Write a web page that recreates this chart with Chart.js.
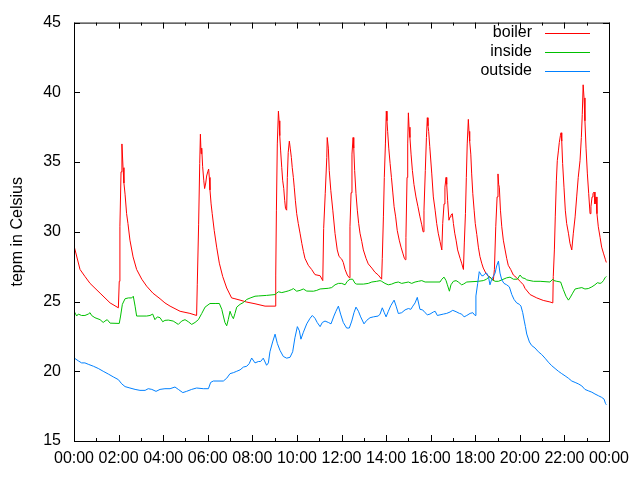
<!DOCTYPE html>
<html>
<head>
<meta charset="utf-8">
<script src="https://cdn.jsdelivr.net/npm/chart.js@4.4.0/dist/chart.umd.min.js"></script>
<style>
  html, body { margin: 0; padding: 0; background: #fff; }
  #contenedor { width: 640px; height: 480px; }
</style>
</head>
<body>
<div id="contenedor"><canvas id="grafica-temperaturas"></canvas></div>
<script>
// [hora, grados] (24h)
const boiler = [
  [0, 29.0], [0.27, 27.3], [0.49, 26.8], [0.72, 26.3], [1.17, 25.6], [1.62, 24.9], [1.99, 24.55],
  [2.03, 26.45], [2.06, 30.4], [2.11, 34.3], [2.15, 36.3], [2.20, 34.6], [2.24, 33.5], [2.29, 32.7],
  [2.36, 31.3], [2.42, 30.6], [2.51, 29.4], [2.65, 28.2], [2.81, 27.3], [3.04, 26.6], [3.26, 26.1],
  [3.54, 25.6], [3.86, 25.2], [4.08, 24.9], [4.31, 24.67], [4.76, 24.3], [5.20, 24.15], [5.50, 24.0],
  [5.53, 26.2], [5.59, 30.5], [5.64, 34.9], [5.67, 37.0], [5.70, 35.6], [5.73, 36.0], [5.77, 34.7],
  [5.82, 33.7], [5.86, 33.1], [5.91, 33.5], [5.95, 34.0], [6.00, 34.3], [6.04, 34.5], [6.07, 33.9],
  [6.10, 33.0], [6.15, 32.0], [6.20, 31.3], [6.29, 30.1], [6.40, 28.9], [6.52, 27.75], [6.67, 26.8],
  [6.85, 25.97], [7.07, 25.26], [7.22, 25.2], [7.45, 25.1], [7.75, 24.96], [8.12, 24.84], [8.57, 24.67],
  [9.02, 24.67], [9.05, 26.9], [9.08, 31.55], [9.12, 36.3], [9.17, 38.65], [9.20, 37.96], [9.23, 36.9],
  [9.27, 35.8], [9.32, 34.6], [9.36, 33.7], [9.41, 33.1], [9.45, 32.26], [9.49, 31.66], [9.54, 31.55],
  [9.57, 33.9], [9.61, 35.7], [9.66, 36.5], [9.70, 36.0], [9.75, 35.33], [9.79, 34.6], [9.84, 33.9],
  [9.88, 33.2], [9.93, 32.26], [9.99, 31.3], [10.06, 30.6], [10.14, 29.9], [10.22, 29.17], [10.29, 28.6],
  [10.36, 28.1], [10.51, 27.6], [10.66, 27.3], [10.81, 26.93], [11.04, 26.85], [11.16, 26.5],
  [11.20, 30.24], [11.27, 32.73], [11.34, 35.33], [11.36, 36.76], [11.41, 36.0], [11.45, 34.4],
  [11.52, 32.97], [11.61, 31.55], [11.71, 29.88], [11.81, 28.7], [11.89, 28.23], [12.01, 28.04],
  [12.08, 27.8], [12.16, 27.3], [12.26, 26.9], [12.35, 26.7], [12.38, 30.36], [12.43, 32.8],
  [12.47, 35.57], [12.52, 36.76], [12.55, 36.0], [12.59, 34.4], [12.65, 32.73], [12.71, 31.55],
  [12.77, 30.6], [12.83, 29.9], [12.91, 29.3], [12.98, 28.7], [13.10, 28.1], [13.20, 27.7],
  [13.36, 27.4], [13.50, 27.1], [13.65, 26.9], [13.80, 26.6], [13.83, 28.1], [13.88, 31.07],
  [13.92, 33.9], [13.97, 36.3], [14.01, 38.65], [14.04, 37.96], [14.07, 37.2], [14.12, 36.0],
  [14.18, 34.9], [14.24, 33.9], [14.30, 32.85], [14.36, 31.8], [14.43, 31.07], [14.50, 30.1],
  [14.59, 29.4], [14.67, 28.9], [14.75, 28.47], [14.82, 28.1], [14.86, 28.0], [14.89, 29.6],
  [14.94, 33.9], [14.97, 36.3], [15.00, 38.53], [15.03, 37.5], [15.07, 36.76], [15.12, 35.57],
  [15.18, 34.4], [15.25, 33.4], [15.34, 32.5], [15.43, 31.8], [15.52, 31.07], [15.60, 30.5],
  [15.66, 30.0], [15.70, 31.55], [15.76, 34.4], [15.81, 36.76], [15.85, 38.18], [15.88, 37.6],
  [15.91, 37.2], [15.96, 36.1], [16.05, 34.15], [16.12, 32.5], [16.20, 31.55], [16.27, 30.6],
  [16.34, 29.9], [16.42, 29.3], [16.50, 28.7], [16.54, 30.6], [16.60, 32.0], [16.64, 33.2],
  [16.69, 33.9], [16.72, 33.4], [16.76, 32.26], [16.82, 30.83], [16.87, 31.07], [16.91, 31.2],
  [16.97, 31.3], [17.02, 30.6], [17.08, 29.9], [17.14, 29.4], [17.21, 28.7], [17.32, 28.1],
  [17.39, 27.75], [17.47, 27.3], [17.51, 29.2], [17.56, 31.3], [17.60, 33.9], [17.64, 36.3],
  [17.69, 38.06], [17.72, 37.2], [17.75, 36.5], [17.80, 35.57], [17.84, 34.15], [17.89, 32.73],
  [17.95, 31.55], [18.00, 30.6], [18.07, 29.8], [18.14, 28.9], [18.21, 28.23], [18.29, 27.75],
  [18.36, 27.4], [18.47, 27.05], [18.59, 26.8], [18.71, 26.7], [18.81, 26.5], [18.86, 27.3],
  [18.92, 30.36], [18.98, 32.5], [19.02, 34.15], [19.05, 33.4], [19.08, 33.2], [19.13, 31.55],
  [19.19, 30.36], [19.26, 29.4], [19.34, 28.7], [19.41, 28.1], [19.48, 27.6], [19.59, 27.3],
  [19.71, 26.9], [19.86, 26.7], [20.01, 26.45], [20.16, 26.2], [20.23, 25.95], [20.46, 25.5],
  [20.76, 25.26], [21.05, 25.08], [21.35, 24.97], [21.48, 24.9], [21.50, 26.8], [21.55, 28.7],
  [21.59, 31.07], [21.64, 33.7], [21.68, 35.1], [21.73, 35.8], [21.77, 36.4], [21.82, 36.9],
  [21.85, 37.1], [21.88, 36.5], [21.92, 34.9], [21.98, 33.2], [22.04, 31.55], [22.10, 30.6],
  [22.18, 29.9], [22.25, 29.17], [22.33, 28.7], [22.40, 29.9], [22.48, 31.07], [22.55, 32.5],
  [22.62, 33.9], [22.70, 35.1], [22.76, 36.76], [22.80, 38.4], [22.84, 40.54], [22.88, 39.6],
  [22.92, 37.96], [22.97, 36.0], [23.03, 34.15], [23.09, 32.73], [23.15, 31.3], [23.19, 31.8],
  [23.24, 32.5], [23.28, 32.73], [23.33, 32.85], [23.37, 32.0], [23.42, 32.5], [23.46, 31.3],
  [23.52, 30.36], [23.60, 29.6], [23.67, 28.9], [23.75, 28.47], [23.84, 28.0], [23.88, 27.8]
];

const inside = [
  [0, 24.32], [0.12, 23.96], [0.19, 24.1], [0.34, 24.0], [0.49, 24.0], [0.64, 24.1], [0.72, 24.2],
  [0.79, 24.0], [0.94, 23.84], [1.17, 23.7], [1.31, 23.5], [1.39, 23.6], [1.49, 23.7], [1.62, 23.45],
  [2.03, 23.43], [2.09, 23.96], [2.17, 24.8], [2.29, 25.2], [2.44, 25.26], [2.59, 25.26], [2.66, 25.38],
  [2.74, 24.67], [2.81, 23.96], [3.26, 23.96], [3.41, 24.0], [3.53, 24.1], [3.63, 23.7], [3.74, 23.9],
  [3.86, 23.84], [3.98, 23.55], [4.08, 23.65], [4.23, 23.67], [4.45, 23.6], [4.68, 23.36], [4.83, 23.6],
  [4.98, 23.7], [5.13, 23.55], [5.28, 23.36], [5.43, 23.5], [5.58, 23.7], [5.73, 24.14], [5.88, 24.6],
  [6.10, 24.86], [6.33, 24.86], [6.52, 24.86], [6.63, 24.44], [6.70, 23.96], [6.77, 23.5], [6.85, 23.26],
  [6.92, 23.7], [7.00, 24.3], [7.07, 24.0], [7.15, 23.77], [7.22, 24.14], [7.30, 24.6], [7.45, 24.8],
  [7.60, 24.93], [7.75, 25.15], [7.90, 25.25], [8.12, 25.38], [8.27, 25.4], [8.64, 25.44], [9.02, 25.5],
  [9.09, 25.6], [9.17, 25.7], [9.32, 25.64], [9.47, 25.7], [9.61, 25.76], [9.77, 25.86], [9.84, 25.93],
  [9.99, 25.74], [10.14, 25.8], [10.29, 25.9], [10.44, 25.75], [10.74, 25.74], [10.89, 25.8], [11.04, 25.9],
  [11.41, 25.95], [11.56, 26.0], [11.71, 26.2], [11.86, 26.3], [12.01, 26.3], [12.16, 26.2], [12.26, 26.45],
  [12.38, 26.6], [12.50, 26.6], [12.61, 26.3], [12.68, 26.25], [12.98, 26.25], [13.20, 26.3], [13.36, 26.4],
  [13.58, 26.45], [13.73, 26.5], [13.80, 26.45], [13.95, 26.3], [14.10, 26.2], [14.25, 26.25], [14.40, 26.35],
  [14.55, 26.4], [14.70, 26.3], [14.85, 26.35], [15.00, 26.4], [15.15, 26.3], [15.30, 26.4], [15.45, 26.45],
  [15.60, 26.5], [15.75, 26.4], [16.42, 26.4], [16.50, 26.6], [16.60, 26.75], [16.69, 26.5], [16.75, 26.2],
  [16.84, 25.74], [16.91, 26.2], [17.02, 26.45], [17.14, 26.5], [17.24, 26.4], [17.39, 26.2], [17.47, 26.25],
  [17.62, 26.4], [18.14, 26.45], [18.36, 26.5], [18.51, 26.6], [18.63, 26.8], [18.74, 26.6], [18.89, 26.45],
  [19.04, 26.45], [19.19, 26.55], [19.41, 26.7], [19.56, 26.75], [19.71, 26.6], [19.89, 26.6], [20.01, 26.9],
  [20.11, 26.7], [20.23, 26.65], [20.31, 26.55], [20.61, 26.45], [20.91, 26.45], [21.35, 26.4], [21.48, 26.6],
  [21.53, 26.5], [21.66, 26.45], [21.83, 26.4], [21.95, 25.86], [22.07, 25.38], [22.18, 25.1], [22.25, 25.26],
  [22.37, 25.6], [22.48, 25.9], [22.62, 25.95], [22.78, 26.0], [22.92, 25.9], [23.07, 25.93], [23.23, 26.05],
  [23.37, 26.2], [23.48, 26.35], [23.60, 26.3], [23.67, 26.35], [23.75, 26.5], [23.82, 26.7], [23.88, 26.8]
];

const outside = [
  [0, 20.96], [0.19, 20.75], [0.34, 20.6], [0.49, 20.6], [0.64, 20.5], [0.87, 20.36], [1.09, 20.2],
  [1.31, 20.0], [1.54, 19.8], [1.76, 19.6], [1.99, 19.4], [2.14, 19.1], [2.29, 18.9], [2.51, 18.8],
  [2.74, 18.7], [2.96, 18.63], [3.19, 18.63], [3.33, 18.75], [3.49, 18.7], [3.68, 18.56], [3.86, 18.7],
  [4.08, 18.75], [4.31, 18.75], [4.53, 18.87], [4.68, 18.7], [4.88, 18.47], [5.05, 18.56], [5.28, 18.7],
  [5.50, 18.8], [5.80, 18.75], [6.03, 18.75], [6.13, 19.2], [6.25, 19.3], [6.70, 19.3], [6.85, 19.5],
  [7.00, 19.83], [7.15, 19.9], [7.30, 20.0], [7.45, 20.1], [7.60, 20.3], [7.75, 20.36], [7.86, 20.55],
  [7.97, 20.95], [8.12, 20.6], [8.27, 20.7], [8.37, 20.7], [8.49, 20.94], [8.64, 20.43], [8.72, 20.6],
  [8.79, 21.4], [8.91, 22.1], [9.02, 22.66], [9.12, 22.0], [9.24, 21.5], [9.39, 21.06], [9.54, 20.94],
  [9.69, 21.0], [9.81, 21.4], [9.91, 22.4], [10.02, 23.2], [10.11, 22.9], [10.18, 22.3], [10.29, 22.8],
  [10.44, 23.4], [10.59, 23.8], [10.69, 24.0], [10.81, 23.8], [10.91, 23.5], [11.04, 23.2], [11.14, 23.5],
  [11.26, 23.6], [11.41, 23.5], [11.53, 23.4], [11.66, 23.96], [11.75, 24.3], [11.86, 24.67], [11.96, 24.1],
  [12.08, 23.5], [12.23, 23.1], [12.35, 23.1], [12.46, 23.6], [12.56, 24.2], [12.65, 24.6], [12.76, 24.3],
  [12.86, 23.9], [13.01, 23.4], [13.13, 23.65], [13.28, 23.84], [13.43, 23.9], [13.65, 23.96], [13.73, 24.1],
  [13.83, 24.55], [13.92, 24.2], [14.00, 23.9], [14.10, 24.3], [14.21, 24.7], [14.36, 25.1], [14.45, 24.67],
  [14.55, 24.14], [14.70, 24.2], [14.85, 24.4], [15.00, 24.5], [15.11, 24.44], [15.20, 24.67], [15.30, 24.9],
  [15.40, 25.3], [15.52, 24.44], [15.64, 24.4], [15.75, 24.2], [15.85, 24.05], [15.97, 24.1], [16.12, 24.25],
  [16.20, 24.3], [16.30, 24.0], [16.57, 24.1], [16.72, 24.15], [16.87, 24.25], [16.99, 24.37], [17.14, 24.27],
  [17.29, 24.15], [17.39, 24.1], [17.50, 23.9], [17.62, 24.0], [17.77, 24.15], [17.89, 24.2], [17.99, 24.0],
  [18.03, 25.4], [18.11, 26.3], [18.18, 27.14], [18.29, 26.85], [18.36, 26.85], [18.44, 27.0], [18.51, 27.04],
  [18.59, 26.8], [18.66, 26.2], [18.74, 26.6], [18.81, 26.8], [18.89, 27.04], [18.96, 27.55], [19.04, 27.9],
  [19.11, 27.04], [19.19, 26.55], [19.29, 26.3], [19.41, 26.2], [19.53, 26.05], [19.64, 25.5], [19.74, 25.15],
  [19.86, 24.9], [19.98, 24.8], [20.05, 24.67], [20.13, 24.2], [20.20, 23.6], [20.25, 23.2], [20.31, 22.67],
  [20.43, 22.1], [20.53, 21.85], [20.68, 21.67], [20.83, 21.4], [20.98, 21.2], [21.13, 20.94], [21.28, 20.65],
  [21.43, 20.4], [21.58, 20.2], [21.73, 20.0], [21.88, 19.83], [22.03, 19.67], [22.18, 19.5], [22.33, 19.3],
  [22.48, 19.2], [22.62, 19.1], [22.78, 18.95], [22.92, 18.7], [23.07, 18.6], [23.23, 18.5], [23.37, 18.37],
  [23.52, 18.25], [23.67, 18.13], [23.78, 18.0], [23.84, 17.7], [23.88, 17.6]
];

const ejeYTicks = [15, 20, 25, 30, 35, 40, 45];
const ejeXHoras = [0, 2, 4, 6, 8, 10, 12, 14, 16, 18, 20, 22, 24];
const tituloY = 'tepm in Celsius';

function aPuntos(serie) {
    return serie.map(p => ({x: p[0], y: p[1]}));
}

Chart.defaults.font.family = "'Liberation Sans', Arial, sans-serif";
Chart.defaults.font.size = 16;
Chart.defaults.color = '#000';

//Marco estilo gnuplot: borde, ticks hacia dentro, leyenda y titulo del eje y
const marcoGnuplot = {
    id: 'marcoGnuplot',
    afterDraw(chart) {
        const {ctx, chartArea: {top, bottom, left, right}, scales: {x, y}} = chart;
        ctx.save();
        ctx.strokeStyle = '#000';
        ctx.lineWidth = 1;
        ctx.strokeRect(left + 0.5, top + 0.5, right - left, bottom - top);

        ctx.beginPath();
        for (let h = 0; h <= 24; h++) {
            const px = Math.round(x.getPixelForValue(h)) + 0.5;
            const largo = ejeXHoras.includes(h) ? 6 : 3;
            ctx.moveTo(px, bottom); ctx.lineTo(px, bottom - largo);
            ctx.moveTo(px, top); ctx.lineTo(px, top + largo);
        }
        ejeYTicks.forEach(v => {
            const py = Math.round(y.getPixelForValue(v)) + 0.5;
            ctx.moveTo(left, py); ctx.lineTo(left + 6, py);
            ctx.moveTo(right, py); ctx.lineTo(right - 6, py);
        });
        ctx.stroke();

        ctx.font = "16px 'Liberation Sans', Arial, sans-serif";
        ctx.fillStyle = '#000';
        ctx.textBaseline = 'middle';

        // leyenda arriba a la derecha
        chart.data.datasets.forEach((ds, i) => {
            const fy = 33 + i * 19;
            ctx.textAlign = 'right';
            ctx.fillText(ds.label, 532, fy);
            ctx.strokeStyle = ds.borderColor;
            ctx.beginPath();
            ctx.moveTo(545, fy + 0.5);
            ctx.lineTo(590, fy + 0.5);
            ctx.stroke();
        });

        ctx.translate(18, (top + bottom) / 2);
        ctx.rotate(-Math.PI / 2);
        ctx.textAlign = 'center';
        ctx.fillText(tituloY, 0, 0);
        ctx.restore();
    }
};

const datos = {
    datasets: [
        {label: 'boiler', data: aPuntos(boiler), borderColor: '#ff0000', order: 3},
        {label: 'inside', data: aPuntos(inside), borderColor: '#00c000', order: 2},
        {label: 'outside', data: aPuntos(outside), borderColor: '#0080ff', order: 1}
    ]
};

const opciones = {
    responsive: false,
    animation: false,
    layout: {padding: {left: 0, right: 31, top: 19, bottom: 0}},
    elements: {
        line: {borderWidth: 1, tension: 0, fill: false},
        point: {radius: 0}
    },
    plugins: {
        legend: {display: false},
        tooltip: {enabled: false}
    },
    scales: {
        x: {
            type: 'linear',
            min: 0, max: 24,
            afterFit: s => { s.height = 39; },
            afterBuildTicks: s => { s.ticks = ejeXHoras.map(v => ({value: v})); },
            grid: {display: false, drawTicks: false},
            border: {display: false},
            ticks: {
                padding: 8,
                autoSkip: false,
                maxRotation: 0,
                callback: v => String(v % 24).padStart(2, '0') + ':00'
            }
        },
        y: {
            min: 15, max: 45,
            afterFit: s => { s.width = 74; },
            afterBuildTicks: s => { s.ticks = ejeYTicks.map(v => ({value: v})); },
            grid: {display: false, drawTicks: false},
            border: {display: false},
            ticks: {padding: 13}
        }
    }
};

const lienzo = document.getElementById('grafica-temperaturas');
lienzo.width = 640;
lienzo.height = 480;
new Chart(lienzo, {
    type: 'line',
    data: datos,
    options: opciones,
    plugins: [marcoGnuplot]
});
</script>
</body>
</html>
